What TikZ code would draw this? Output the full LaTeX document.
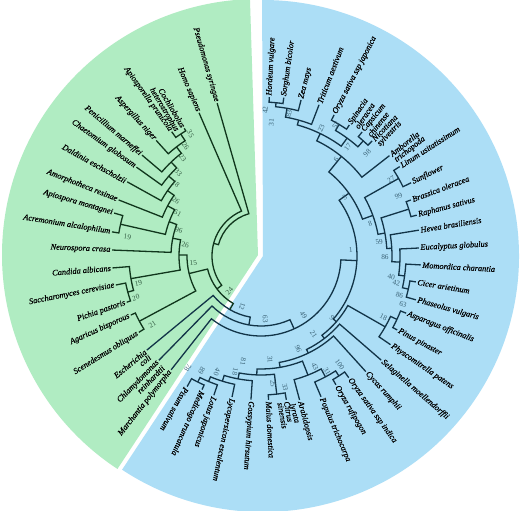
\documentclass[tikz,border=0pt]{standalone}
\usepackage{fontspec}
\setmainfont{Liberation Serif}
\newfontfamily\leaffont{Liberation Serif}[FakeBold=0.5]
\definecolor{gbg}{RGB}{176,236,194}
\definecolor{bbg}{RGB}{172,222,246}
\definecolor{gline}{RGB}{16,54,28}
\definecolor{bline}{RGB}{18,52,72}
\definecolor{gnum}{RGB}{50,92,66}
\definecolor{bnum}{RGB}{58,98,118}
% branch: angle1, r1, angle2, r2, node radius
\newcommand\brB[5]{\draw[bl] (#1:#2pt) -- (#1:#5pt) arc[start angle=#1, end angle=#3, radius=#5pt] -- (#3:#4pt);}
\newcommand\brG[5]{\draw[gl] (#1:#2pt) -- (#1:#5pt) arc[start angle=#1, end angle=#3, radius=#5pt] -- (#3:#4pt);}
% leaves
\newcommand\lfB[4]{\node[lfb, rotate=#2, anchor=west] (#1) at (#2:{#3pt+1.2pt}) {#4};}
\newcommand\lfBB[5]{\node[lfb, rotate=#2, anchor=west] (#1) at (#2:{#3pt+1.2pt}) {#4};
  \node[lfb, rotate=#2, anchor=north west] (#1x) at (#1.south west) {#5};}
\newcommand\lfG[4]{\node[lfb, rotate=#2-180, anchor=east] (#1) at (#2:{#3pt+1.2pt}) {#4};}
\newcommand\lfGG[5]{\node[lfb, rotate=#2-180, anchor=east] (#1) at (#2:{#3pt+1.2pt}) {#4};
  \node[lfb, rotate=#2-180, anchor=north east] (#1x) at (#1.south east) {#5};}
% bootstrap numbers
\newcommand\nmB[4]{\node[nmb, rotate=#2] (#1) at (#2:#3pt) {#4};}
\newcommand\nmG[4]{\node[nmg, rotate=#2-180] (#1) at (#2:#3pt) {#4};}
\begin{document}
\begin{tikzpicture}[
  lfb/.style={font=\leaffont\fontsize{8.3}{9}\selectfont\itshape, inner sep=0.3pt, text=black},
  nmb/.style={font=\fontsize{7.3}{8}\selectfont, inner sep=0pt, text=bnum},
  nmg/.style={font=\fontsize{7.3}{8}\selectfont, inner sep=0pt, text=gnum},
  bl/.style={draw=bline, line width=1.3pt},
  gl/.style={draw=gline, line width=1.3pt}
]
\useasboundingbox (-261pt,-255pt) rectangle (259pt,256pt);
\fill[white] (-261pt,-255pt) rectangle (259pt,256pt);
% sectors
\fill[gbg] (-3pt,1pt) -- ++(91.8:256pt) arc[start angle=91.8, end angle=236.7, radius=256pt] -- cycle;
\fill[bbg] (2pt,0pt) -- ++(-123.4:256pt) arc[start angle=-123.4, end angle=90.2, radius=256pt] -- cycle;

% ---------------- blue clade branches ----------------
\brB{87}{159}{81.8}{160}{154}
\brB{84.4}{154}{75.6}{161}{150}
\brB{80}{150}{69}{162}{141}
\brB{62.6}{159}{56}{158}{153}
\brB{50.8}{160}{46}{160}{154}
\brB{59.3}{153}{48.4}{154}{146}
\brB{74.5}{141}{53.85}{146}{136}
\brB{64.175}{136}{38}{163}{128}
\brB{32.8}{165}{26}{167}{158}
\brB{20.5}{160}{14.7}{161}{155}
\brB{-9.5}{157}{-15.8}{161}{151}
\brB{-3.2}{160}{-12.65}{151}{145}
\brB{2.9}{158}{-7.925}{145}{139}
\brB{9.3}{160}{-2.5125}{139}{131}
\brB{17.6}{155}{3.394}{131}{126}
\brB{29.4}{158}{10.5}{126}{119}
\brB{51.0875}{128}{19.95}{119}{108}
\brB{-21.5}{156}{-28.5}{155}{150}
\brB{-25}{150}{-34.4}{157}{143}
\brB{-54.2}{150}{-59.8}{149}{143}
\brB{-57}{143}{-66.9}{153}{137}
\brB{-61.95}{137}{-75}{149}{128}
\brB{-80}{146}{-87}{144}{139}
\brB{-119.5}{150}{-113.8}{146}{141}
\brB{-116.65}{141}{-108.7}{147}{136}
\brB{-112.675}{136}{-101.6}{144}{131}
\brB{-107.14}{131}{-94}{144}{125}
\brB{-100.57}{125}{-83.5}{139}{119}
\brB{-92.035}{119}{-68.475}{128}{113}
\brB{-80.255}{113}{-47.8}{156}{108}
\brB{-64.03}{108}{-40.9}{159}{104}
\brB{-52.46}{104}{-29.7}{143}{100}
\brB{-41.08}{100}{35.52}{108}{96}
% ring
\brB{-2.78}{96}{-128.3}{145}{80}
\brB{-65.54}{80}{-134.4}{146}{70}
\brB{-99.97}{70}{-140.5}{148}{62}
% ---------------- green clade branches ----------------
\brG{121}{149}{125.7}{153}{146}
\brG{123.35}{146}{132.2}{156}{138}
\brG{127.775}{138}{139.7}{156}{130}
\brG{133.74}{130}{144.5}{153}{122}
\brG{139.12}{122}{151}{153}{114}
\brG{145.06}{114}{158.5}{153}{106}
\brG{163.7}{153}{170.8}{151}{144}
\brG{151.78}{106}{167.25}{144}{98}
\brG{159.515}{98}{177.7}{149}{90}
\brG{191.3}{148}{199}{142}{138}
\brG{184.6}{149}{195.15}{138}{132}
\brG{168.61}{90}{189.875}{132}{82}
\brG{204.4}{143}{212}{144}{138}
\brG{179.24}{82}{208.2}{138}{74}
\brG{239.765}{62}{193.72}{74}{55}
\brG{216.74}{55}{113.4}{156}{49}
\brG{165.07}{49}{106}{159}{44}

% ---------------- blue leaves ----------------
\lfB{Hv}{87}{159}{Hordeum vulgare}
\lfB{Sb}{81.8}{160}{Sorghum bicolor}
\lfB{Zm}{75.6}{161}{Zea mays}
\lfB{Ta}{69}{162}{Triticum aestivum}
\lfB{Osj}{62.6}{159}{Oryza sativa ssp japonica}
\lfBB{So}{56}{158}{Spinacia}{oleracea}
\lfBB{Cc}{50.8}{160}{Capsicum}{chinense}
\lfBB{Ns}{46}{160}{Nicotiana}{sylvestris}
\lfBB{At}{38}{163}{Amborella}{trichopoda}
\lfB{Lu}{32.8}{165}{Linum usitatissimum}
\lfB{Sf}{26}{167}{Sunflower}
\lfB{Bo}{20.5}{160}{Brassica oleracea}
\lfB{Rs}{14.7}{161}{Raphanus sativus}
\lfB{Hb}{9.3}{160}{Hevea brasiliensis}
\lfB{Eg}{2.9}{158}{Eucalyptus globulus}
\lfB{Mc}{-3.2}{160}{Momordica charantia}
\lfB{Ca}{-9.5}{157}{Cicer arietinum}
\lfB{Pv}{-15.8}{161}{Phaseolus vulgaris}
\lfB{Ao}{-21.5}{156}{Asparagus officinalis}
\lfB{Pp}{-28.5}{155}{Pinus pinaster}
\lfB{Phy}{-34.4}{157}{Physcomitrella patens}
\lfB{Sm}{-40.9}{159}{Selaginella moellendorffii}
\lfB{Cr}{-47.8}{156}{Cycas rumphii}
\lfB{Osi}{-54.2}{150}{Oryza sativa ssp indica}
\lfB{Or}{-59.8}{149}{Oryza rufipogon}
\lfB{Pt}{-66.9}{153}{Populus trichocarpa}
\lfBB{Al}{-75}{149}{Arabidopsis}{lyrata}
\lfBB{Cs}{-80}{146}{Citrus}{sinensis}
\lfB{Md}{-87}{144}{Malus domestica}
\lfB{Gh}{-94}{144}{Gossypium hirsutum}
\lfB{Le}{-101.6}{144}{Lycopersicon esculentum}
\lfB{Lj}{-108.7}{147}{Lotus japonicus}
\lfB{Mt}{-113.8}{146}{Medicago truncatula}
\lfB{Ps}{-119.5}{150}{Pisum sativum}
% ---------------- green leaves ----------------
\lfG{Mp}{231.7}{145}{Marchantia polymorpha}
\lfGG{Chr}{225.6}{146}{Chlamydomonas}{reinhardtii}
\lfGG{Ec}{219.5}{148}{Escherichia}{coli}
\lfG{Sob}{212}{144}{Scenedesmus obliquus}
\lfG{Ab}{204.4}{143}{Agaricus bisporous}
\lfG{Pip}{199}{142}{Pichia pastoris}
\lfG{Sc}{191.3}{148}{Saccharomyces cerevisiae}
\lfG{Cal}{184.6}{149}{Candida albicans}
\lfG{Nc}{177.7}{149}{Neurospora crasa}
\lfG{Aa}{170.8}{151}{Acremonium alcalophilum}
\lfG{Am}{163.7}{153}{Apiospora montagnei}
\lfG{Ar}{158.5}{153}{Amorphotheca resinae}
\lfG{De}{151}{153}{Daldinia eschscholzii}
\lfG{Cg}{144.5}{153}{Chaetomium globosum}
\lfG{Pm}{139.7}{156}{Penicillium marneffei}
\lfG{An}{132.2}{156}{Aspergillus niger}
\lfG{Apr}{125.7}{153}{Apiosporella prunicola}
\lfGG{Ch}{121}{149}{Cochliobolus}{heterostrophus}
\lfG{Hs}{113.4}{156}{Homo sapiens}
\lfG{Psy}{106}{159}{Pseudomonas syringae}

% ---------------- bootstrap values ----------------
\nmB{b1}{88.3}{146}{42}
\nmB{b2}{85.5}{134}{31}
\nmB{b3}{78.9}{145}{83}
\nmB{b4}{64.7}{141}{23}
\nmB{b5}{60.3}{151}{52}
\nmB{b6}{51.4}{139}{17}
\nmB{b7}{44.2}{148}{98}
\nmB{b8}{52}{122}{6}
\nmB{b9}{34.8}{102}{3}
\nmB{b10}{30.5}{151}{27}
\nmB{b11}{23.5}{150}{99}
\nmB{b12}{16.6}{114}{8}
\nmB{b13}{6.7}{119}{59}
\nmB{b14}{-0.5}{124}{86}
\nmB{b15}{-9.1}{132}{40}
\nmB{b16}{-11.2}{138}{42}
\nmB{b17}{-15.7}{144}{86}
\nmB{b18}{3.7}{90}{1}
\nmB{b19}{-18.8}{150}{63}
\nmB{b20}{-26.6}{137}{18}
\nmB{b21}{-40.9}{94}{9}
\nmB{b22}{-56}{94}{21}
\nmB{b23}{-68.1}{100}{96}
\nmB{b24}{-85}{104}{31}
\nmB{b25}{-64}{123}{43}
\nmB{b26}{-60.2}{133}{31}
\nmB{b27}{-54}{134}{100}
\nmB{b28}{-84.6}{128}{25}
\nmB{b29}{-79.6}{133.5}{33}
\nmB{b30}{-54.4}{73}{49}
\nmB{b31}{-99.6}{107}{81}
\nmB{b32}{-102.6}{118.5}{18}
\nmB{b33}{-110.8}{124}{40}
\nmB{b34}{-117.4}{129}{89}
\nmB{b35}{-123.1}{134}{78}
\nmB{b36}{-110.2}{54}{12}
\nmB{b37}{-86.2}{63}{63}
\nmG{g1}{227.6}{47}{24}
\nmG{g2}{120}{141}{35}
\nmG{g3}{124.4}{133.5}{26}
\nmG{g4}{128.6}{125.5}{23}
\nmG{g5}{134.7}{117.5}{33}
\nmG{g6}{139.7}{111.5}{18}
\nmG{g7}{146.9}{101.5}{26}
\nmG{g8}{152.9}{93.5}{51}
\nmG{g9}{162.6}{86}{96}
\nmG{g10}{171.8}{76.5}{26}
\nmG{g11}{171.9}{135}{19}
\nmG{g12}{185.9}{68}{15}
\nmG{g13}{192.4}{125.5}{19}
\nmG{g14}{198.4}{132}{20}
\nmG{g15}{212.3}{128.5}{21}
\end{tikzpicture}
\end{document}
